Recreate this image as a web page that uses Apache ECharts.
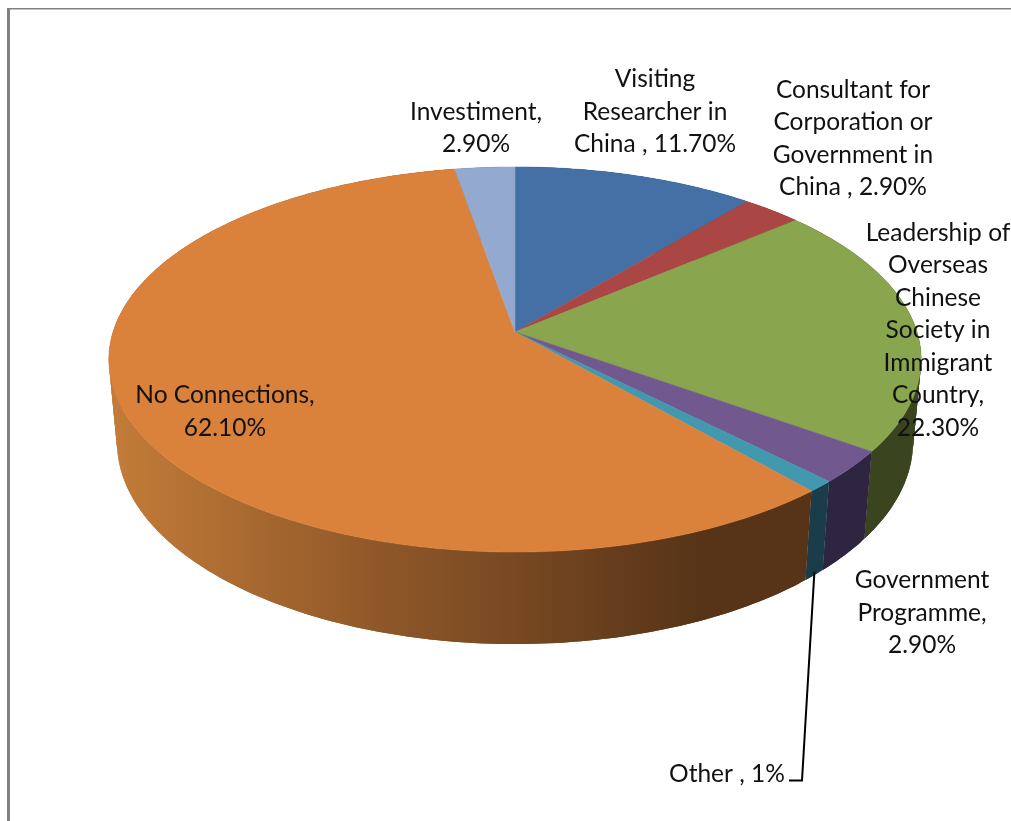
<!DOCTYPE html>
<html>
<head>
<meta charset="utf-8">
<style>html,body{margin:0;padding:0;background:#fff}#c{width:1011px;height:821px}</style>
<script src="https://cdn.jsdelivr.net/npm/echarts@6/dist/echarts.min.js"></script>
</head>
<body>
<div id="c"></div>
<script>
// Data, clockwise from twelve o'clock
const categories = ['Visiting Researcher in China','Consultant for Corporation or Government in China','Leadership of Overseas Chinese Society in Immigrant Country','Government Programme','Other','No Connections','Investiment'];
const values = [11.7, 2.9, 22.3, 2.9, 1, 62.1, 2.9];
const valueLabels = ['11.70%','2.90%','22.30%','2.90%','1%','62.10%','2.90%'];
const labelLines = [
  ['Visiting','Researcher in','China , 11.70%'],
  ['Consultant for','Corporation or','Government in','China , 2.90%'],
  ['Leadership of','Overseas','Chinese','Society in','Immigrant','Country,','22.30%'],
  ['Government','Programme,','2.90%'],
  ['Other , 1%'],
  ['No Connections,','62.10%'],
  ['Investiment,','2.90%']
];
// Styles and layout
const topColors = ['#4470A5','#AA4643','#89A54E','#71588F','#4198AF','#DA823C','#93A9CF'];
const sideColors = ['#2a4566','#692b29','#3a4520','#2e2540','#1b3d4a',null,'#5a6880'];
const labelCenters = [[655,112],[853,138.5],[938,330.5],[922,613],[727,774],[225,411.5],[476,128]];
const P = 1/7, A = 188.6, B = 402, CX = 515, CY = 332;
const KX = 0.98, KY = 1.05, BOTTOM_Y = 413;
const FONT = '24.5px Lato, "Open Sans", sans-serif';

const total = values.reduce((a,b)=>a+b,0);
const starts = []; let acc = 0;
values.forEach(v=>{starts.push(acc); acc += v;});

function rel(theta){ // perspective projection of the pie's circle
  const x = Math.sin(theta), y = -Math.cos(theta), w = 1 - P*y;
  return [B*x/w, A*y/w];
}
const topPt = t => { const r = rel(t); return [CX + r[0], CY + r[1]]; };
const botPt = t => { const r = rel(t); return [CX + KX*r[0], BOTTOM_Y + KY*r[1]]; };
function angles(i){
  const a0 = starts[i]/total*2*Math.PI, a1 = (starts[i]+values[i])/total*2*Math.PI;
  const n = Math.max(2, Math.ceil((a1-a0)/(Math.PI/180))), out = [];
  for(let k=0;k<=n;k++) out.push(a0+(a1-a0)*k/n);
  return out;
}
const orangeSide = new echarts.graphic.LinearGradient(117,0,700,0,[
  {offset:0,color:'#c27b38'},{offset:0.47,color:'#8d5628'},{offset:1,color:'#573418'}],true);

const seriesData = values.map((v,i)=>({name:categories[i],value:[v,i]}));
const option = {
  animation:false,
  backgroundColor:'#fff',
  graphic:[
    {type:'rect',shape:{x:7,y:8,width:3,height:813},style:{fill:'#808080'},silent:true},
    {type:'rect',shape:{x:7,y:8,width:1004,height:1.4},style:{fill:'#808080'},silent:true}
  ],
  series:[
    {type:'custom',coordinateSystem:'none',data:seriesData,z:1,silent:true,
     renderItem(p,api){
       const i=api.value(1), as=angles(i), fill=sideColors[i]||orangeSide, children=[];
       const last=as.length-1;
       for(let k=0;k<last;k++){
         const m=Math.min(k+2,last), mid=[];   // overlapping strips leave no seams
         for(let j=k;j<=m;j++) mid.push(as[j]);
         children.push({type:'polygon',
           shape:{points:mid.map(topPt).concat(mid.slice().reverse().map(botPt))},
           style:{fill}});
       }
       return {type:'group',children};
     }},
    {type:'custom',coordinateSystem:'none',data:seriesData,z:2,silent:true,
     renderItem(p,api){
       const i=api.value(1), pts=[[CX,CY]].concat(angles(i).map(topPt));
       return {type:'polygon',shape:{points:pts},style:{fill:topColors[i],stroke:topColors[i],lineWidth:0.5}};
     }},
    {type:'custom',coordinateSystem:'none',data:seriesData,z:3,silent:true,
     renderItem(p,api){
       const i=api.value(1), c=labelCenters[i], children=[{
         type:'text',
         style:{x:c[0],y:c[1],text:labelLines[i].join('\n'),font:FONT,fill:'#111',
                align:'center',verticalAlign:'middle',lineHeight:32.5}
       }];
       if(categories[i]==='Other'){
         const as=angles(i), s=botPt(as[Math.floor(as.length/2)]);
         children.push({type:'polyline',shape:{points:[[s[0],s[1]-3],[802,780.5],[789,780.5]]},
           style:{fill:null,stroke:'#000',lineWidth:2}});
       }
       return {type:'group',children};
     }}
  ]
};
echarts.init(document.getElementById('c'),null,{renderer:'canvas'}).setOption(option);
</script>
</body>
</html>
